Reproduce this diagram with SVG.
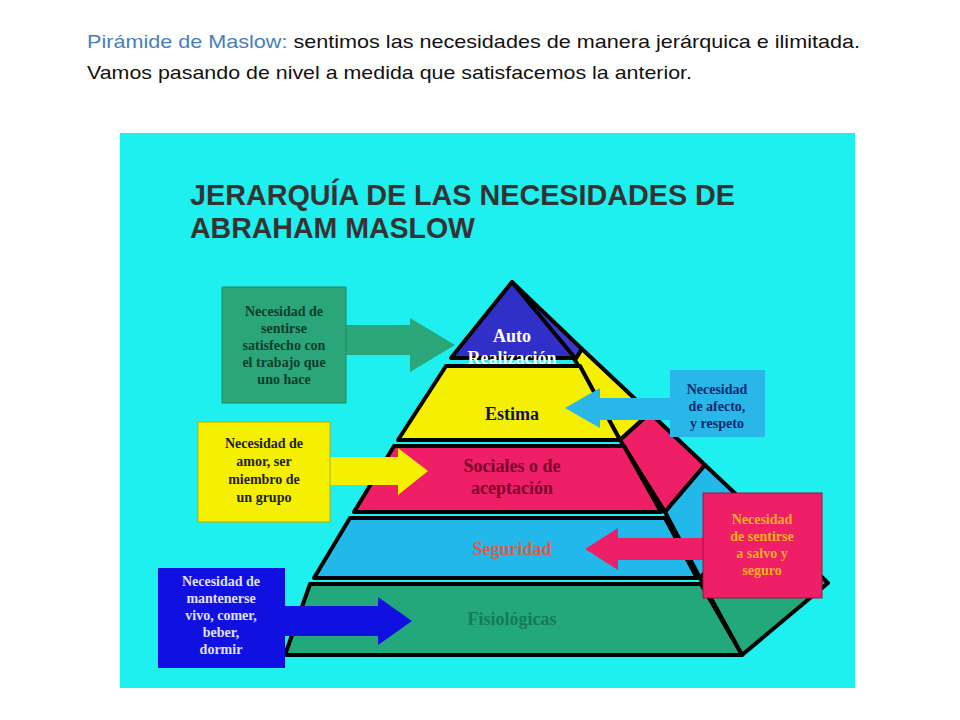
<svg xmlns="http://www.w3.org/2000/svg" width="960" height="720" viewBox="0 0 960 720">
<style>
.hd{font-family:"Liberation Sans",Arial,sans-serif;font-size:19px;fill:#111}
.tt{font-family:"Liberation Sans",Arial,sans-serif;font-size:30px;font-weight:bold;fill:#333}
.lb{font-family:"Liberation Serif","Times New Roman",serif;font-weight:bold;font-size:18px;text-anchor:middle}
.bx{font-family:"Liberation Serif","Times New Roman",serif;font-weight:bold;font-size:14px;text-anchor:middle}
.ol{stroke:#000;stroke-width:4;stroke-linejoin:round}
.ar{stroke:none}
</style>
<rect width="960" height="720" fill="#fff"/>
<text class="hd" x="87" y="48" textLength="773" lengthAdjust="spacingAndGlyphs"><tspan fill="#4a7ebb">Pirámide de Maslow:</tspan> sentimos las necesidades de manera jerárquica e ilimitada.</text>
<text class="hd" x="87" y="79" textLength="605" lengthAdjust="spacingAndGlyphs">Vamos pasando de nivel a medida que satisfacemos la anterior.</text>
<rect x="120" y="133" width="735" height="555" fill="#1ef0f0"/>
<text class="tt" x="190" y="205" textLength="545" lengthAdjust="spacingAndGlyphs">JERARQUÍA DE LAS NECESIDADES DE</text>
<text class="tt" x="190" y="238" textLength="285" lengthAdjust="spacingAndGlyphs">ABRAHAM MASLOW</text>
<g id="pyramid">
<g id="side">
<polygon class="ol" points="512,282 582,349 575,360" fill="#3a3ad0"/>
<polygon class="ol" points="575,360 582,349 650,413 620,440" fill="#f5f000"/>
<polygon class="ol" points="620,440 650,413 705,465 665,512" fill="#ee1f66"/>
<polygon class="ol" points="665,512 705,465 760,517 700,578" fill="#22b8ea"/>
<polygon class="ol" points="700,578 760,517 828,583 742,655" fill="#22a87a"/>
</g>
<g id="auto"><polygon class="ol" points="512,282 575,358 451,358" fill="#3030c8"/>
<text class="lb" x="512" y="342" fill="#fff">Auto</text><text class="lb" x="512" y="364" fill="#fff">Realización</text></g>
<g id="estima"><polygon class="ol" points="446,366 580,366 620,440 398,440" fill="#f5f000"/>
<text class="lb" x="512" y="420" fill="#101060">Estima</text></g>
<g id="sociales"><polygon class="ol" points="394,446 624,446 661,512 354,512" fill="#ee1f66"/>
<text class="lb" x="512" y="472" fill="#7a0030">Sociales o de</text><text class="lb" x="512" y="494" fill="#7a0030">aceptación</text></g>
<g id="seguridad"><polygon class="ol" points="350,518 665,518 697,578 314,578" fill="#22b8ea"/>
<text class="lb" x="512" y="555" fill="#d06050">Seguridad</text></g>
<g id="fisiologicas"><polygon class="ol" points="310,584 701,584 742,655 285,655" fill="#22a87a"/>
<text class="lb" x="512" y="625" fill="#157a5a">Fisiológicas</text></g>
</g>
<g id="connectors">
<polygon class="ar" fill="#2aa67a" points="346,325 410,325 410,318 455,345 410,372 410,355 346,355"/>
<polygon class="ar" fill="#29b6e8" points="670,398 600,398 600,388 565,408 600,428 600,420 670,420"/>
<polygon class="ar" fill="#f5f000" points="330,457 398,457 398,448 428,471 398,495 398,485 330,485"/>
<polygon class="ar" fill="#ee1f66" points="703,538 618,538 618,528 585,549 618,570 618,560 703,560"/>
<polygon class="ar" fill="#1010e0" points="285,606 378,606 378,597 412,621 378,645 378,636 285,636"/>
</g>
<g id="box-auto"><rect x="222" y="287" width="124" height="116" fill="#2aa67a" stroke="#1c8a60" stroke-width="1"/>
<text class="bx" fill="#0d3d2a"><tspan x="284" y="316">Necesidad de</tspan><tspan x="284" y="333">sentirse</tspan><tspan x="284" y="350">satisfecho con</tspan><tspan x="284" y="367">el trabajo que</tspan><tspan x="284" y="384">uno hace</tspan></text></g>
<g id="box-estima"><rect x="670" y="370" width="95" height="67" fill="#29b6e8"/>
<text class="bx" fill="#0b2a70"><tspan x="717" y="394">Necesidad</tspan><tspan x="717" y="411">de afecto,</tspan><tspan x="717" y="428">y respeto</tspan></text></g>
<g id="box-sociales"><rect x="198" y="422" width="132" height="100" fill="#f5f000" stroke="#b8b000" stroke-width="1"/>
<text class="bx" fill="#222"><tspan x="264" y="448">Necesidad de</tspan><tspan x="264" y="466">amor, ser</tspan><tspan x="264" y="484">miembro de</tspan><tspan x="264" y="502">un grupo</tspan></text></g>
<g id="box-seguridad"><rect x="703" y="493" width="119" height="105" fill="#ee1f66" stroke="#a0103f" stroke-width="1"/>
<text class="bx" fill="#ffb020"><tspan x="762" y="524">Necesidad</tspan><tspan x="762" y="541">de sentirse</tspan><tspan x="762" y="558">a salvo y</tspan><tspan x="762" y="575">seguro</tspan></text></g>
<g id="box-fisiologicas"><rect x="158" y="568" width="127" height="100" fill="#1010e0"/>
<text class="bx" fill="#e0e0ff"><tspan x="221" y="586">Necesidad de</tspan><tspan x="221" y="603">mantenerse</tspan><tspan x="221" y="620">vivo, comer,</tspan><tspan x="221" y="637">beber,</tspan><tspan x="221" y="654">dormir</tspan></text></g>
</svg>
